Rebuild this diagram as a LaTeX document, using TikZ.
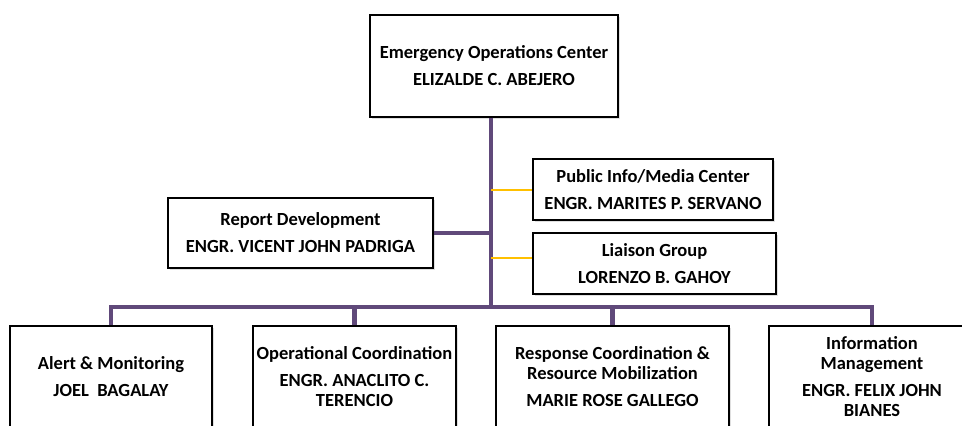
\documentclass[tikz,border=0pt]{standalone}
\usepackage{fontspec}
\setmainfont{Carlito}
\usetikzlibrary{shadows}
\definecolor{orgpurple}{RGB}{96,73,122}
\definecolor{orgyellow}{RGB}{255,192,0}
\begin{document}
\begin{tikzpicture}[x=1pt,y=-1pt,
  unitbox/.style={draw=black,line width=1.2pt,fill=white,align=center,
    inner sep=1pt,font=\bfseries\fontsize{18.5}{20}\selectfont,
    drop shadow={opacity=0.25,shadow xshift=1.5pt,shadow yshift=-2pt}},
  trunk/.style={orgpurple,line width=4.5pt},
  liaise/.style={orgyellow,line width=1.8pt}]
\useasboundingbox (0,0) rectangle (962,426);
\clip (0,0) rectangle (962,426);

% top office
\node[unitbox,minimum width=248,minimum height=102] (eoc) at (494,66)
  {Emergency Operations Center\\[7pt]ELIZALDE C. ABEJERO};

% staff boxes
\node[unitbox,minimum width=265,minimum height=70] (report) at (300.5,233)
  {Report Development\\[7pt]ENGR. VICENT JOHN PADRIGA};
\node[unitbox,minimum width=240,minimum height=61] (media) at (653,189.5)
  {Public Info/Media Center\\[7pt]ENGR. MARITES P. SERVANO};
\node[unitbox,minimum width=243,minimum height=61] (liaison) at (654.5,263.5)
  {Liaison Group\\[7pt]LORENZO B. GAHOY};

% sections
\node[unitbox,minimum width=202,minimum height=102] (alert) at (111,377)
  {Alert \& Monitoring\\[7pt]JOEL\ \ BAGALAY};
\node[unitbox,minimum width=203,minimum height=102] (opcoord) at (354.5,377)
  {Operational Coordination\\[7pt]ENGR. ANACLITO C.\\TERENCIO};
\node[unitbox,minimum width=233,minimum height=102] (response) at (612.5,377)
  {Response Coordination \&\\Resource Mobilization\\[7pt]MARIE ROSE GALLEGO};
\node[unitbox,minimum width=206,minimum height=102] (infomgmt) at (872,377)
  {Information\\Management\\[7pt]ENGR. FELIX JOHN\\BIANES};

% connectors
\coordinate (bus) at (491,307);
\coordinate (mediatap) at (491,190);
\coordinate (liaisontap) at (491,258);
\draw[trunk] (bus |- eoc.south) -- (bus);
\draw[trunk] (report.east) -- (report.east -| bus);
\draw[liaise] (mediatap) -- (mediatap -| media.west);
\draw[liaise] (liaisontap) -- (liaisontap -| liaison.west);
\draw[trunk] (alert.north) -- (alert.north |- bus) -| (infomgmt.north);
\draw[trunk] (opcoord.north) -- (opcoord.north |- bus);
\draw[trunk] (response.north) -- (response.north |- bus);
\end{tikzpicture}
\end{document}
